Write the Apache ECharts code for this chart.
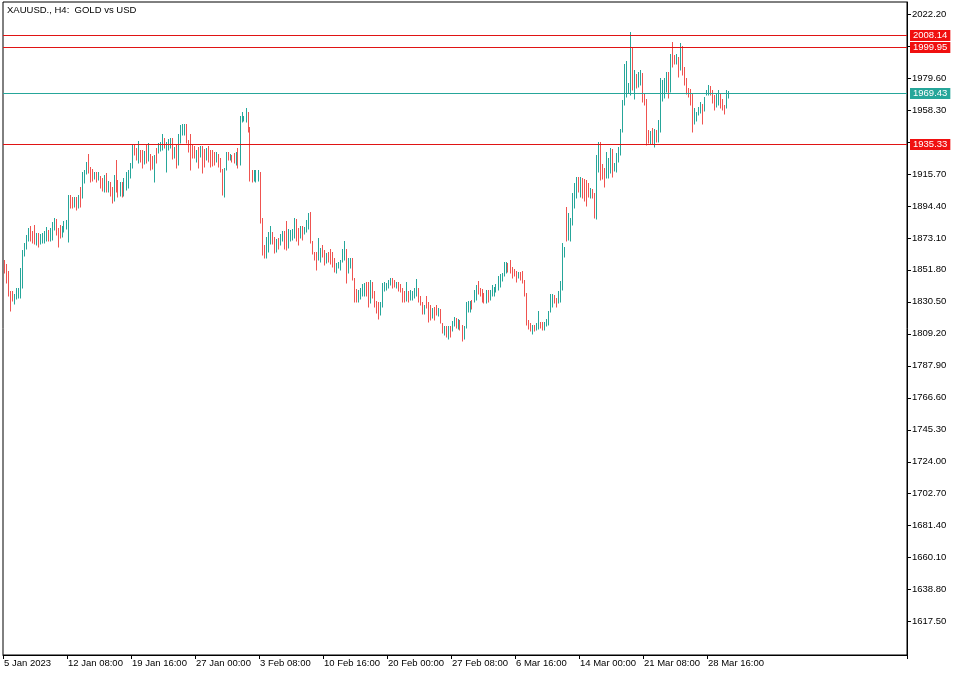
<!DOCTYPE html>
<html>
<head>
<meta charset="utf-8">
<script src="https://cdn.jsdelivr.net/npm/echarts@6/dist/echarts.min.js"></script>
<style>html,body{margin:0;padding:0;background:#fff}#c{width:960px;height:675px}</style>
</head>
<body>
<div id="c"></div>
<script>
// XAUUSD H4 bars (high / low per bar), Jan 5 – Mar 30 2023
const highs = [
1858.5,1855.6,1851.1,1837.4,1837.4,1835.6,1840.0,1840.0,1852.9,1865.1,
1869.6,1875.1,1880.0,1881.3,1877.8,1881.8,1876.2,1876.2,1875.5,1876.2,
1877.8,1880.6,1878.4,1879.5,1884.0,1886.6,1885.8,1879.5,1881.8,1881.3,
1884.4,1885.1,1901.7,1901.7,1900.6,1900.6,1900.0,1901.7,1907.3,1916.8,
1918.4,1923.9,1928.8,1920.6,1919.0,1917.3,1916.8,1917.3,1914.6,1913.3,
1915.0,1916.2,1911.0,1910.2,1907.3,1915.0,1925.0,1911.7,1910.2,1910.2,
1913.3,1916.8,1918.4,1922.8,1935.0,1935.0,1932.8,1937.7,1931.7,1931.7,
1931.0,1935.0,1936.1,1928.8,1927.9,1928.4,1932.8,1936.1,1937.2,1942.1,
1939.4,1937.2,1939.0,1939.9,1939.4,1933.9,1935.0,1942.1,1948.3,1948.8,
1948.8,1948.8,1938.3,1942.1,1935.0,1934.6,1931.7,1933.9,1934.6,1934.6,
1932.4,1932.8,1934.6,1931.7,1931.7,1930.6,1930.6,1928.8,1926.6,1919.0,
1919.9,1930.6,1930.1,1928.8,1928.4,1929.5,1930.1,1932.8,1954.5,1957.2,
1954.5,1959.9,1957.2,1947.2,1918.4,1918.4,1918.4,1918.4,1917.3,1886.6,
1868.4,1874.0,1877.3,1881.3,1876.9,1874.0,1872.4,1873.3,1875.5,1877.8,
1877.8,1884.4,1879.1,1878.4,1879.1,1886.6,1885.8,1880.0,1881.3,1881.3,
1880.6,1885.1,1889.5,1890.6,1870.7,1864.0,1864.0,1872.9,1866.2,1868.4,
1865.1,1862.9,1864.0,1865.8,1864.0,1859.6,1856.2,1857.3,1858.5,1865.8,
1870.7,1865.8,1859.6,1859.6,1860.0,1846.3,1839.2,1838.5,1839.6,1842.3,
1842.9,1844.0,1844.0,1845.1,1843.6,
1837.4,1831.2,1830.7,1830.3,1842.9,1844.0,1842.9,
1845.1,1846.7,1846.7,1845.1,1843.6,1843.6,1842.3,1839.6,1837.4,1844.0,
1837.4,1838.5,1837.8,1840.0,1845.8,1839.6,1834.7,1830.7,1828.5,1834.1,
1830.7,1828.5,1826.7,1827.4,1828.1,1826.7,1825.8,1816.3,1814.1,1814.1,
1814.1,1814.1,1817.9,1820.1,1819.6,1819.2,1818.5,1815.2,1814.1,1830.7,
1831.2,1831.2,1831.8,1838.5,1841.8,1844.5,1839.6,1839.2,1836.3,1838.5,
1838.5,1838.5,1841.4,1840.7,1842.3,1847.4,1848.9,1849.6,1856.9,1856.9,
1856.2,1858.5,1853.4,1852.5,1851.1,1850.7,1850.3,1851.1,1845.1,1836.3,
1818.5,1816.3,1815.2,1815.2,1816.3,1824.5,1817.0,1817.0,1817.4,1819.2,
1824.5,1835.6,1835.6,1835.2,1832.9,1837.4,1844.5,1869.6,1867.3,1894.0,
1889.5,1886.2,1902.8,1909.5,1913.9,1913.9,1913.9,1913.3,1912.4,1911.7,
1909.5,1906.2,1905.7,1902.8,1928.4,1936.8,1937.2,1922.1,1919.5,1930.6,
1926.1,1933.2,1932.4,1922.8,1929.5,1933.9,1945.7,1965.0,1988.7,1990.9,
1976.1,2010.0,1999.4,1984.9,1982.1,1983.8,1984.9,1982.7,1969.4,1965.6,
1945.0,1944.3,1946.1,1945.7,1945.0,1951.7,1979.4,1978.3,1979.8,1983.8,
1983.8,1995.4,2003.8,1994.9,1995.4,1993.8,2002.7,2001.1,1987.2,1979.4,
1973.2,1972.3,1969.4,1959.9,1957.2,1960.5,1963.4,1962.1,1967.2,1971.6,
1975.0,1974.5,1971.6,1968.3,1969.4,1971.6,1969.4,1965.6,1961.6,1971.6,1971.0
];
const lows = [
1849.6,1842.9,1834.1,1824.5,1831.2,1828.9,1832.5,1832.9,1832.9,1839.6,
1861.3,1865.8,1870.7,1870.7,1869.6,1868.9,1868.4,1867.3,1868.9,1869.6,
1869.6,1870.7,1871.1,1870.7,1871.8,1878.4,1875.1,1866.7,1872.9,1874.0,
1877.3,1879.1,1870.2,1892.9,1892.9,1894.0,1891.7,1892.9,1894.0,1899.5,
1909.5,1915.5,1916.2,1910.6,1911.0,1912.4,1910.2,1911.7,1906.2,1904.4,
1903.9,1903.5,1903.5,1901.3,1896.2,1897.7,1903.9,1900.6,1901.3,1900.6,
1901.3,1905.1,1906.2,1912.8,1919.5,1928.4,1925.0,1922.8,1923.9,1919.9,
1922.1,1922.8,1924.4,1918.4,1919.0,1910.2,1922.8,1929.5,1931.0,1931.7,
1932.8,1916.8,1931.7,1933.2,1925.7,1926.1,1919.9,1921.7,1936.1,1941.7,
1941.7,1936.1,1930.6,1918.4,1926.1,1926.1,1923.9,1919.9,1927.2,1916.2,
1920.6,1925.0,1923.9,1920.6,1921.3,1921.7,1923.9,1920.6,1916.8,1901.7,
1900.6,1918.4,1925.0,1925.0,1923.5,1922.8,1921.7,1919.9,1921.7,1950.1,
1951.0,1950.5,1943.4,1911.0,1910.2,1911.0,1910.2,1911.0,1882.9,1861.8,
1860.0,1859.6,1864.0,1868.9,1868.9,1862.9,1864.0,1865.8,1868.4,1870.7,
1865.8,1865.1,1866.2,1870.7,1871.8,1873.3,1870.7,1868.4,1872.9,1871.8,
1875.5,1876.9,1879.1,1869.6,1862.2,1858.5,1851.8,1858.5,1856.9,1860.7,
1855.1,1856.2,1857.3,1855.6,1853.4,1850.7,1849.6,1852.9,1851.8,1857.3,
1858.5,1842.9,1849.6,1852.9,1845.1,1830.7,1830.7,1830.3,1832.5,1834.1,
1834.7,1834.1,1827.4,1829.6,1832.9,
1827.4,1823.0,1819.2,1821.8,1827.4,1837.4,1838.5,
1839.6,1841.4,1840.0,1840.7,1839.6,1837.4,1836.9,1830.7,1830.3,1831.2,
1830.7,1831.8,1831.8,1832.9,1834.7,1830.3,1828.1,1822.3,1822.3,1826.3,
1817.4,1818.5,1819.6,1818.5,1821.8,1821.4,1816.3,1809.6,1808.5,1807.4,
1805.9,1806.8,1810.8,1814.7,1813.4,1812.5,1811.9,1804.1,1805.9,1813.0,
1823.6,1823.6,1825.8,1830.3,1831.8,1835.6,1834.1,1830.7,1829.6,1829.6,
1830.7,1831.8,1834.1,1834.7,1836.9,1838.5,1840.7,1844.5,1848.0,1849.6,
1850.7,1849.6,1846.7,1847.4,1844.0,1846.3,1845.1,1842.9,1834.1,1815.2,
1812.5,1810.8,1809.0,1811.2,1811.9,1812.5,1813.0,1811.9,1811.9,1814.1,
1815.2,1823.6,1827.4,1829.6,1827.4,1829.6,1830.7,1838.5,1860.7,1871.1,
1871.8,1870.7,1881.8,1893.3,1899.5,1903.9,1900.0,1899.5,1897.7,1894.6,
1900.6,1899.5,1899.5,1886.2,1885.8,1916.8,1911.7,1912.4,1907.3,1912.8,
1913.3,1916.2,1913.9,1917.7,1917.3,1923.5,1928.4,1943.9,1961.6,1967.2,
1969.4,1968.3,1971.6,1965.6,1972.7,1973.8,1975.0,1963.9,1961.6,1935.0,
1936.1,1935.5,1935.5,1933.9,1936.8,1936.8,1943.9,1964.3,1966.1,1970.5,
1966.1,1970.5,1987.2,1988.7,1988.7,1980.5,1984.9,1981.6,1975.0,1968.7,
1967.2,1961.6,1943.9,1948.8,1951.0,1955.0,1956.1,1948.8,1957.6,1968.3,
1968.3,1968.3,1962.8,1958.3,1960.5,1961.6,1959.4,1958.3,1955.4,1959.9,1966.5
];
// bar direction: u = bullish, d = bearish
const dirs = [
"ddddduuuuu","uuuddduduu","uuduuudddu","uuuddududu","uudddududd",
"ududduddud","uuuuuddudd","ududduduuu","duuududuuu","udddddudud",
"dudddduddd","uududduduu","uuddduuudd","duuudduduu","dduuuuddud",
"uuudddduud","dudddduuuu","uduuddduuu","uddud","ddduuuu",
"uudduddddu",
"duuuudddud","ddudduddud","uduududduu","uuduuddddu","duuuuuuuuu",
"dddddudddd","dduduudduu","uuudduuuud","uuuuududdd","dudduudddu",
"uuduuuuuuu","uududuuddd","dududuuuuu","duddududdd","ddduuuuduu",
"uddduuddduu"
].join('');

const xTickLabels = ["5 Jan 2023","12 Jan 08:00","19 Jan 16:00","27 Jan 00:00","3 Feb 08:00",
  "10 Feb 16:00","20 Feb 00:00","27 Feb 08:00","6 Mar 16:00","14 Mar 00:00","21 Mar 08:00","28 Mar 16:00"];
const yTickValues = [2022.20,2000.90,1979.60,1958.30,1937.00,1915.70,1894.40,1873.10,1851.80,1830.50,
  1809.20,1787.90,1766.60,1745.30,1724.00,1702.70,1681.40,1660.10,1638.80,1617.50];
const levelLines = [2008.14, 1999.95, 1935.33];
const bidLine = 1969.43;

const FONT = '"Liberation Sans", Arial, sans-serif';
const UP = '#26a69a', DOWN = '#ef5350';
const LEVEL_LINE = '#e01414', LEVEL_BG = '#f01010';
const TOTAL_SLOTS = 452;     // visible H4 slots incl. empty right margin
const TICK_EVERY = 32;
const Y_MIN = 1595.3, Y_MAX = 2030.2;
const nBars = highs.length;

// H4 time slots (weekdays only)
const categories = [];
let t = Date.UTC(2023, 0, 5, 0, 0);
while (categories.length < TOTAL_SLOTS) {
  const d = new Date(t);
  const wd = d.getUTCDay();
  if (wd !== 0 && wd !== 6) categories.push(d.toISOString().slice(0, 16).replace('T', ' '));
  t += 4 * 3600 * 1000;
}
const bars = highs.map((h, i) => [i, lows[i], h, dirs[i] === 'u' ? 1 : 0]);

// horizontal price levels: [x, value, isBid]
const levels = levelLines.map(v => [0, v, 0]).concat([[0, bidLine, 1]]);

const chart = echarts.init(document.getElementById('c'), null, { renderer: 'canvas' });
const tickShown = (i) => i % TICK_EVERY === 0 && i < nBars;
chart.setOption({
  animation: false,
  backgroundColor: '#fff',
  title: {
    text: 'XAUUSD., H4:  GOLD vs USD', left: 7, top: 5, padding: 0,
    textStyle: { fontSize: 9.5, fontWeight: 'normal', color: '#000', fontFamily: FONT }
  },
  grid: { left: 3, top: 2, right: 53, bottom: 20, show: true, borderColor: '#000', borderWidth: 1 },
  xAxis: {
    type: 'category', data: categories, boundaryGap: true,
    axisLine: { show: true, lineStyle: { color: '#000', width: 1 } },
    axisTick: { show: true, interval: tickShown, length: 4, lineStyle: { color: '#000' } },
    axisLabel: {
      interval: tickShown, align: 'left', margin: 3, color: '#000', fontSize: 9.5, fontFamily: FONT,
      formatter: (v, i) => xTickLabels[i / TICK_EVERY] || ''
    },
    splitLine: { show: false }
  },
  yAxis: {
    type: 'value', position: 'right', min: Y_MIN, max: Y_MAX, scale: true,
    axisLine: { show: true, lineStyle: { color: '#000', width: 1 } },
    axisTick: { show: true, length: 4, customValues: yTickValues, lineStyle: { color: '#000' } },
    axisLabel: {
      customValues: yTickValues, margin: 5, color: '#000', fontSize: 9.5, fontFamily: FONT,
      formatter: v => v.toFixed(2)
    },
    splitLine: { show: false }
  },
  series: [
    {
      type: 'custom', data: bars, encode: { x: 0, y: [1, 2] }, silent: true,
      renderItem: (params, api) => {
        const i = api.value(0);
        const pLo = api.coord([i, api.value(1)]);
        const pHi = api.coord([i, api.value(2)]);
        const x = Math.floor(pLo[0]) + 0.5;
        return {
          type: 'line',
          shape: { x1: x, y1: Math.round(pLo[1]) + 0.5, x2: x, y2: Math.round(pHi[1]) },
          style: { stroke: api.value(3) ? UP : DOWN, lineWidth: 1 }
        };
      }
    },
    {
      type: 'custom', data: levels, encode: { x: 0, y: 1 }, silent: true, z: 4, clip: false,
      renderItem: (params, api) => {
        const cs = params.coordSys;
        const v = api.value(1);
        const isBid = api.value(2);
        const y = Math.floor(api.coord([0, v])[1]) + 0.5;
        const col = isBid ? UP : LEVEL_LINE;
        return {
          type: 'group',
          children: [
            {
              type: 'line',
              shape: { x1: cs.x, y1: y, x2: cs.x + cs.width, y2: y },
              style: { stroke: col, lineWidth: 1 }
            },
            {
              type: 'text', x: cs.x + cs.width + 3, y: y, z2: 10,
              style: {
                text: v.toFixed(2), fill: '#fff', fontSize: 9.5, fontFamily: FONT,
                backgroundColor: isBid ? UP : LEVEL_BG, padding: [1, 3, 0, 3], lineHeight: 10,
                align: 'left', verticalAlign: 'middle'
              }
            }
          ]
        };
      }
    }
  ]
});
</script>
</body>
</html>
